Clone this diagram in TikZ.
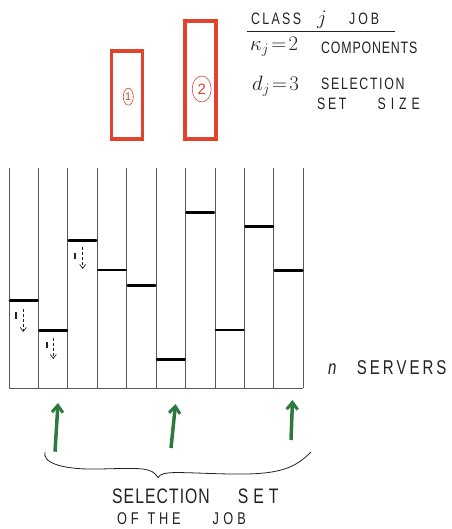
\documentclass[tikz,border=0pt]{standalone}
\usepackage{fontspec}
\setmainfont{Liberation Sans}
\newfontfamily\hand[FakeStretch=0.75]{Liberation Sans}
\newcommand{\ls}[2]{{\addfontfeature{LetterSpace=#1}#2}}
\usetikzlibrary{arrows.meta,shapes.geometric}
\definecolor{jobred}{HTML}{E0442E}
\definecolor{selgreen}{HTML}{2E7A3E}
\definecolor{ink}{HTML}{222222}
\tikzset{
  server/.style={draw=gray!70!black, line width=0.9pt},
  qbar/.style={draw=black, line width=2.8pt, line cap=round},
  jobbox/.style={draw=jobred, line width=3.5pt},
  selarrow/.style={draw=selgreen, line width=3.5pt, -{Straight Barb[length=7pt,width=11pt,line width=3pt]}},
  txt/.style={font=\hand\fontsize{16.5}{18}\selectfont, text=ink, inner sep=0pt, anchor=west},
  bigtxt/.style={font=\hand\fontsize{21}{23}\selectfont, text=ink, inner sep=0pt, anchor=west},
  midtxt/.style={font=\hand\fontsize{17}{19}\selectfont, text=ink, inner sep=0pt, anchor=west},
  srvtxt/.style={font=\hand\fontsize{20}{22}\selectfont, text=ink, inner sep=0pt, anchor=west},
  mathtxt/.style={font=\fontsize{22}{22}\selectfont, text=ink, inner sep=0pt, anchor=west},
  down/.style={draw=ink, line width=0.7pt, dashed, dash pattern=on 3pt off 2pt, -{Straight Barb[length=4pt,width=6pt]}},
  tick/.style={draw=ink, line width=1.8pt},
  numring/.style={draw=jobred, ellipse, line width=0.6pt, inner sep=0pt, text=jobred},
}
\begin{document}
\begin{tikzpicture}[x=1pt,y=-1pt]
\useasboundingbox (0,0) rectangle (451,529);
% job boxes
\node[jobbox, minimum width=31pt, minimum height=88pt, inner sep=0pt] (box1) at (127.2,95) {};
\node[jobbox, minimum width=31pt, minimum height=118pt, inner sep=0pt] (box2) at (200.5,80.2) {};
\node[numring, minimum width=10pt, minimum height=17pt, font=\fontsize{11}{11}\selectfont] (c1) at (128.3,96.7) {1};
\node[numring, minimum width=19pt, minimum height=26pt, font=\fontsize{15}{15}\selectfont] (c2) at (201.7,89) {2};
% legend
\node[txt] (class) at (251,19.2) {\ls{14}{CLASS}};
\node[mathtxt, anchor=center] (jj) at (322,20) {$j$};
\node[txt] (job) at (349,19.2) {\ls{18}{JOB}};
\coordinate (ulA) at (246.7,31.7);
\coordinate (ulB) at (395,31.7);
\draw[ink, line width=0.8pt] (ulA) -- (ulB);
\node[mathtxt] (kap) at (250,47) {$\kappa_j\!=\!2$};
\node[txt] (comp) at (321,47.5) {\ls{5}{COMPONENTS}};
\node[mathtxt] (dj) at (252,86) {$d_j\!=\!3$};
\node[txt] (sel) at (321,84) {\ls{10}{SELECTION}};
\node[txt] (ssz) at (317,104) {\ls{16}{SET}\hspace{31pt}\ls{30}{SIZE}};
% servers
\foreach \i in {0,...,10}{
  \draw[server] (9+29.43*\i,168) -- (9+29.43*\i,388);
}
\draw[server] (9,388) -- (303.3,388);
% queue bars
\foreach \i/\yy in {0/300.7,1/330.7,2/240.7,3/270,4/285.7,5/359.3,6/212.7,7/330,8/226.7,9/270.7}{
  \draw[qbar] (9+29.43*\i+1,\yy) -- (9+29.43*\i+28.4,\yy);
}
% dashed down marks
\draw[tick] (15.7,311.7) -- (15.7,319);
\draw[down] (23.3,309) -- (23.3,332);
\draw[tick] (46.7,341.7) -- (46.7,347.5);
\draw[down] (53.3,338) -- (53.3,359);
\draw[tick] (75,252.7) -- (75,258.5);
\draw[down] (82.7,247) -- (82.7,269);
\node[srvtxt] (nserv) at (328,368) {\ls{12}{\textit{n}}\hspace{18pt}\ls{15}{SERVERS}};
% selection arrows
\coordinate (t1) at (55,451.7); \coordinate (h1) at (58,403);
\coordinate (t2) at (171,448); \coordinate (h2) at (175.5,404);
\coordinate (t3) at (291,440); \coordinate (h3) at (292.5,400);
\draw[selarrow] (t1) -- (h1);
\draw[selarrow] (t2) -- (h2);
\draw[selarrow] (t3) -- (h3);
% brace
\coordinate (bl) at (45,452);
\coordinate (bt) at (158,477.5);
\coordinate (br) at (311,452);
\draw[ink, line width=0.8pt] (bl) .. controls (42,462) and (60,470) .. (100,469)
  .. controls (140,468) and (152,467) .. (bt)
  .. controls (162,470) and (180,473) .. (230,474)
  .. controls (280,475) and (295,468) .. (br);
\node[bigtxt] (selset) at (112,496) {\ls{5}{SELECTION}\hspace{28pt}\ls{24}{SET}};
\node[midtxt] (ofjob) at (117,519) {\ls{22}{OF}\hspace{9pt}\ls{22}{THE}\hspace{32pt}\ls{25}{JOB}};
\end{tikzpicture}
\end{document}
